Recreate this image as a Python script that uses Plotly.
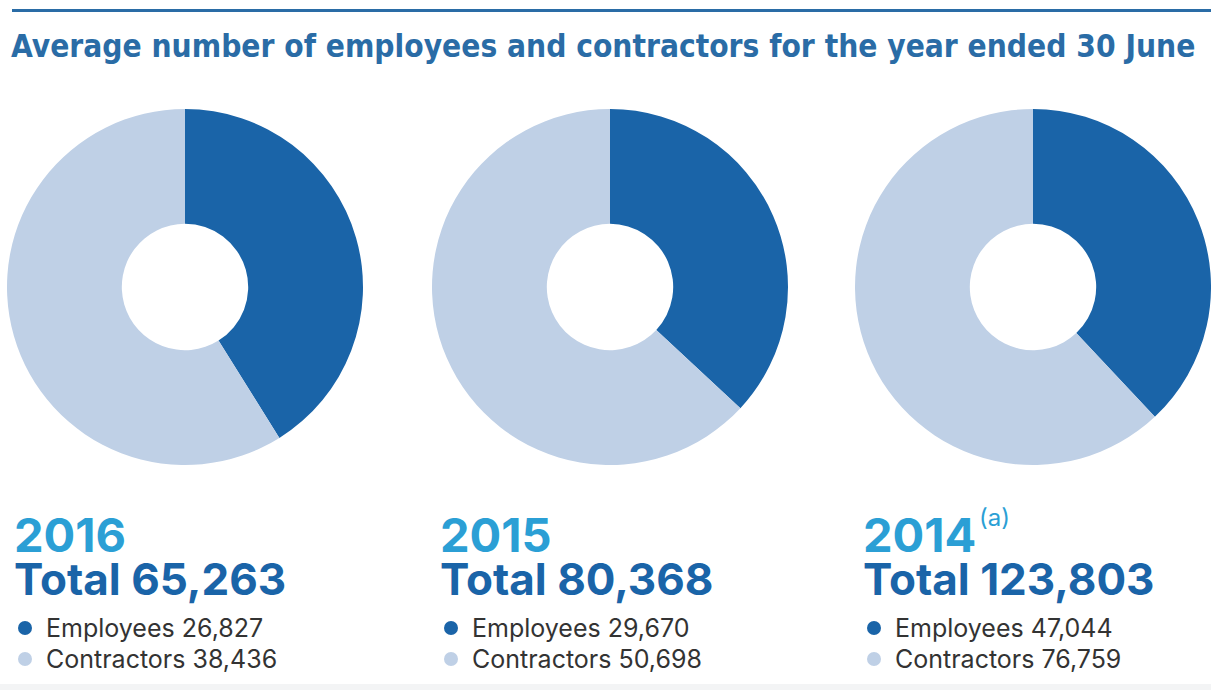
import plotly.graph_objects as go

# Workforce figures by financial year
years = ["2016", "2015", "2014"]
year_notes = ["", "", "(a)"]
categories = ["Employees", "Contractors"]
employees = [26827, 29670, 47044]
contractors = [38436, 50698, 76759]
totals = [65263, 80368, 123803]

W, H = 1211, 690
DARK = "#1a64a8"
LIGHT = "#bfd0e6"
YEAR_BLUE = "#2b9fd5"
TITLE_BLUE = "#2a6ca6"

centers_x = [185, 610, 1033]
center_y = 287
radius = 178


def py(y_px):
    """Pixel row from the top -> paper fraction."""
    return (H - y_px) / H


fig = go.Figure()
for i, yr in enumerate(years):
    cx = centers_x[i]
    fig.add_trace(go.Pie(
        labels=categories,
        values=[employees[i], contractors[i]],
        hole=0.355,
        sort=False,
        direction="clockwise",
        rotation=0,
        marker=dict(colors=[DARK, LIGHT], line=dict(width=0)),
        textinfo="none",
        hoverinfo="label+value",
        showlegend=False,
        domain=dict(x=[(cx - radius) / W, (cx + radius) / W],
                    y=[py(center_y + radius), py(center_y - radius)]),
    ))

annotations = []
shapes = []

# Top rule, title and faint footer band
shapes.append(dict(type="rect", xref="paper", yref="paper",
                   x0=12 / W, x1=1, y0=py(12), y1=py(9),
                   fillcolor="#2a6ca6", line=dict(width=0)))
shapes.append(dict(type="rect", xref="paper", yref="paper",
                   x0=0, x1=1, y0=0, y1=py(684),
                   fillcolor="#f3f4f5", line=dict(width=0)))
annotations.append(dict(
    text="<b>Average number of employees and contractors for the year ended 30 June</b>",
    x=9 / W, y=py(46), xref="paper", yref="paper",
    xanchor="left", yanchor="middle", showarrow=False,
    font=dict(family="DejaVu Sans Condensed, Liberation Sans Narrow, Roboto",
              size=31.4, color=TITLE_BLUE)))

text_left = [12, 438, 861]
for i, yr in enumerate(years):
    x0 = text_left[i]
    # year and total share one text block; base size sets the 43px line pitch
    block = (f"<span style='font-size:47px;color:{YEAR_BLUE}'><b>{yr}</b></span><br>"
             f"<span style='font-size:44px;color:{DARK}'><b>Total {totals[i]:,}</b></span>")
    annotations.append(dict(
        text=block, x=x0 / W, y=py(556), xref="paper", yref="paper",
        xanchor="left", yanchor="middle", align="left", showarrow=False,
        font=dict(family="Inter", size=33, color=DARK)))
    if year_notes[i]:
        annotations.append(dict(
            text=year_notes[i], x=(x0 + 116) / W, y=py(517), xref="paper", yref="paper",
            xanchor="left", yanchor="middle", showarrow=False,
            font=dict(family="Inter", size=24, color=YEAR_BLUE)))
    for j, (lab, val, col) in enumerate([(categories[0], employees[i], DARK),
                                          (categories[1], contractors[i], LIGHT)]):
        yy = 628 + j * 31
        shapes.append(dict(type="circle", xref="paper", yref="paper",
                           x0=(x0 + 6) / W, x1=(x0 + 20) / W,
                           y0=py(yy + 7), y1=py(yy - 7),
                           fillcolor=col, line=dict(width=0)))
        annotations.append(dict(
            text=f"{lab} {val:,}", x=(x0 + 32) / W, y=py(yy),
            xref="paper", yref="paper", xanchor="left", yanchor="middle", showarrow=False,
            font=dict(family="Inter", size=25, color="#333333")))

fig.update_layout(
    width=W, height=H,
    margin=dict(l=0, r=0, t=0, b=0),
    paper_bgcolor="white", plot_bgcolor="white",
    annotations=annotations, shapes=shapes,
)

fig.write_html("out.html")
